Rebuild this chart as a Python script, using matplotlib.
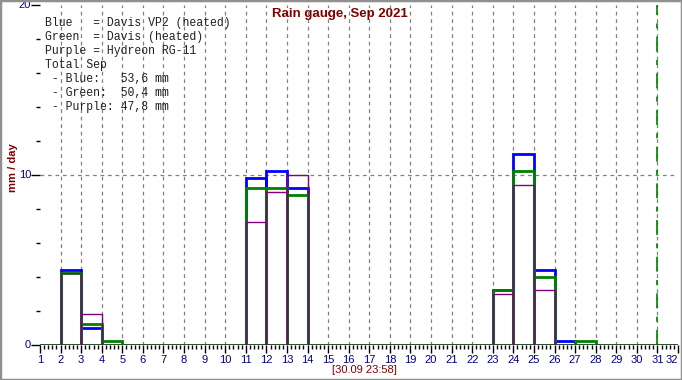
import matplotlib
matplotlib.use("Agg")
import matplotlib.pyplot as plt
from matplotlib.ticker import MultipleLocator, FixedLocator
from matplotlib.patches import Rectangle

# daily rain, mm, days 1..31 of Sep 2021
days = list(range(1, 32))
blue = [0, 4.4, 1.0, 0, 0, 0, 0, 0, 0, 0, 9.8, 10.2, 9.2, 0, 0, 0, 0, 0, 0, 0,
        0, 0, 3.2, 11.2, 4.4, 0.2, 0, 0, 0, 0, 0]
green = [0, 4.2, 1.2, 0.2, 0, 0, 0, 0, 0, 0, 9.2, 9.2, 8.8, 0, 0, 0, 0, 0, 0, 0,
         0, 0, 3.2, 10.2, 4.0, 0, 0.2, 0, 0, 0, 0]
purple = [0, 4.2, 1.8, 0, 0, 0, 0, 0, 0, 0, 7.2, 9.0, 10.0, 0, 0, 0, 0, 0, 0, 0,
          0, 0, 3.0, 9.4, 3.2, 0, 0, 0, 0, 0, 0]
today = 31

legend_lines = [
    "Blue   = Davis VP2 (heated)",
    "Green  = Davis (heated)",
    "Purple = Hydreon RG-11",
    "Total Sep",
    " - Blue:   53,6 mm",
    " - Green:  50,4 mm",
    " - Purple: 47,8 mm",
]

W, H = 682, 380
fig = plt.figure(figsize=(W / 100, H / 100), dpi=100)
fig.patch.set_facecolor("white")
ax = fig.add_axes([40 / W, 1 - 344.5 / H, 638 / W, 340 / H])

ax.set_xlim(1, 32)
ax.set_ylim(0, 20)

# grid
for d in range(2, 32):
    ax.axvline(d, color="#808080", lw=0.9, ls=(0, (3, 3)), zorder=1)
ax.axhline(10, color="#808080", lw=0.9, ls=(0, (3, 3)), zorder=1)
ax.axvline(today, color="#008000", lw=1.2, ls=(0, (9, 5, 3, 5)), zorder=2)

# bars as outlined boxes
for vals, col, lw, z in [(blue, "#0000ff", 2.0, 3), (green, "#008000", 2.0, 4),
                         (purple, "#800080", 1.0, 5)]:
    ax.bar(days, vals, width=1, align="edge", fill=False, edgecolor=col,
           linewidth=lw, zorder=z)
    ax.plot([1, 32], [0, 0], color=col, lw=lw, zorder=z, solid_capstyle="butt")

for s in ax.spines.values():
    s.set_visible(False)
ax.set_facecolor("none")

ax.xaxis.set_major_locator(FixedLocator(range(1, 33)))
ax.xaxis.set_minor_locator(MultipleLocator(0.2))
ax.yaxis.set_major_locator(FixedLocator([0, 10, 20]))
ax.yaxis.set_minor_locator(MultipleLocator(2))
ax.tick_params(axis="x", which="major", direction="out", length=5.5, width=1,
               color="black", labelcolor="#000080", labelsize=8, pad=2)
ax.tick_params(axis="x", which="minor", direction="out", length=3, width=1, color="black")
ax.tick_params(axis="y", which="major", direction="out", length=6.5, width=1,
               color="black", labelcolor="#000080", labelsize=8, pad=0)
ax.tick_params(axis="y", which="minor", direction="out", length=3, width=1, color="black")
for lab in ax.get_xticklabels() + ax.get_yticklabels():
    lab.set_family(["Liberation Sans Narrow", "Liberation Sans"])
ax.get_xticklabels()[-1].set_horizontalalignment("right")
ax.get_xticklabels()[-1].set_x(32.2)

fig.text(340 / W, 1 - 14 / H, "Rain gauge, Sep 2021", ha="center", va="center",
         color="#800000", fontsize=9.5, fontweight="bold", family="Liberation Sans")
fig.text(13 / W, 1 - 168 / H, "mm / day", ha="center", va="center", rotation=90,
         color="#800000", fontsize=8, fontweight="bold", family="Liberation Sans")
fig.text(364 / W, 1 - 370 / H, "[30.09 23:58]", ha="center", va="center",
         color="#800000", fontsize=8, family="Liberation Sans")

for i, line in enumerate(legend_lines):
    fig.text(45 / W, 1 - (23 + 14 * i) / H, line, ha="left", va="center",
             color="#202020", fontsize=8.3, family="Liberation Mono")

# window frame
fig.patches.append(Rectangle((0, 0), 1, 1, transform=fig.transFigure, fill=False,
                             edgecolor="#909090", linewidth=2.5))

fig.savefig("out.png", dpi=100)
